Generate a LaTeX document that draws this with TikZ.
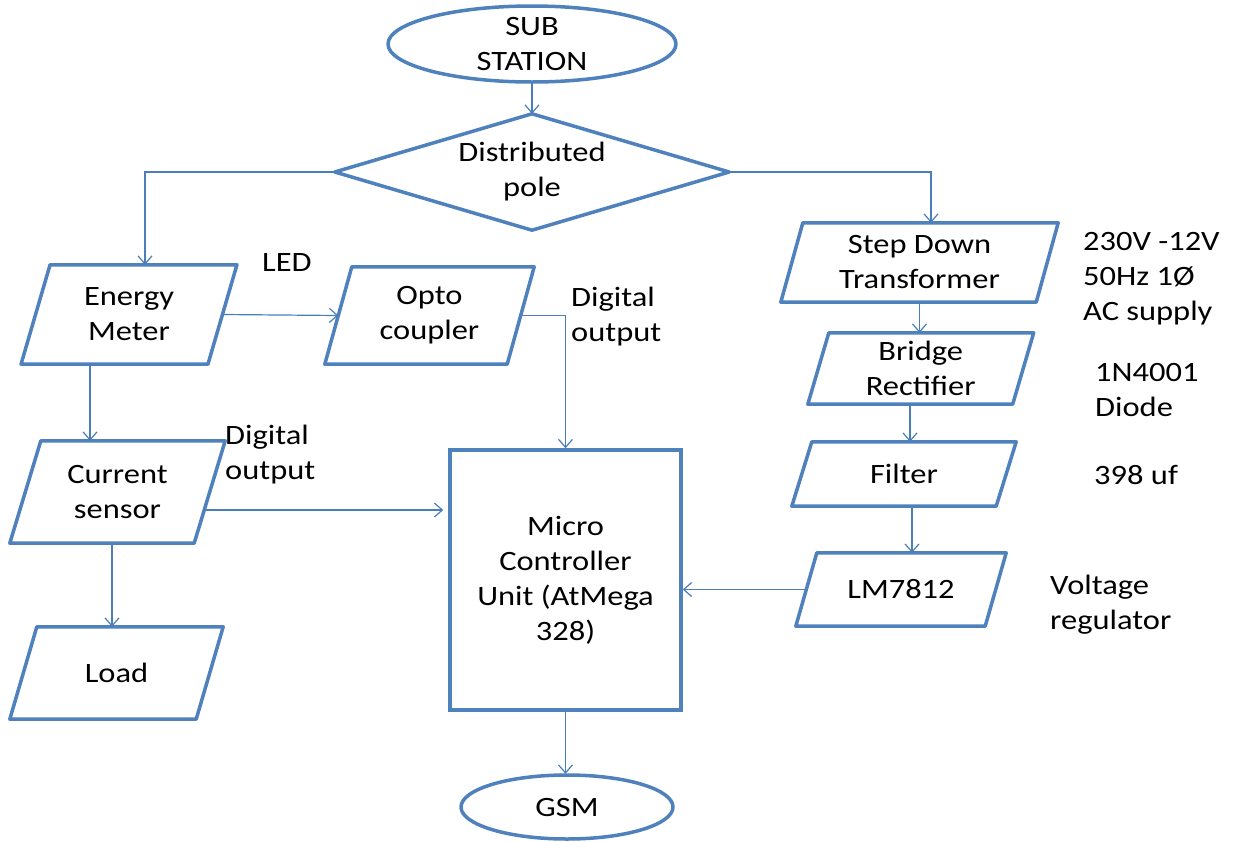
\documentclass[tikz,border=0pt]{standalone}
\usepackage{fontspec}
\setmainfont[FakeStretch=1.16]{Carlito}
\usetikzlibrary{arrows.meta}
\definecolor{boxblue}{HTML}{4F81BD}
\definecolor{lineblue}{HTML}{4A7EBB}
\begin{document}
\begin{tikzpicture}[x=1pt,y=-1pt,
  box/.style={draw=boxblue, line width=3.5pt, line join=round},
  holder/.style={inner sep=0pt, align=center, font=\fontsize{28}{35}\selectfont},
  lbl/.style={inner sep=0pt, align=left, anchor=west, font=\fontsize{28}{35}\selectfont},
  conn/.style={draw=lineblue, line width=1.2pt, -{Straight Barb[length=8pt,width=14pt]}}]
\useasboundingbox (0,0) rectangle (1234,841);
\fill[white] (0,0) rectangle (1234,841);
% nodes
\node[holder, minimum width=288pt, minimum height=76pt] (sub) at (532,44) {SUB\\STATION};
\node[holder, minimum width=394pt, minimum height=116pt] (dp) at (532,172) {Distributed\\pole};
\node[holder, minimum width=186.5pt, minimum height=99pt] (em) at (129,314.5) {Energy\\Meter};
\node[holder, minimum width=182pt, minimum height=97pt] (oc) at (429.5,315.5) {Opto\\coupler};
\node[holder, minimum width=184pt, minimum height=102pt] (cs) at (117.5,492) {Current\\sensor};
\node[holder, minimum width=186pt, minimum height=92pt] (ld) at (116.5,673) {Load};
\node[holder, minimum width=255pt, minimum height=79pt] (sd) at (919.5,262.5) {Step Down\\Transformer};
\node[holder, minimum width=204.5pt, minimum height=71pt] (br) at (920.75,368.5) {Bridge\\Rectifier};
\node[holder, minimum width=204pt, minimum height=64pt] (fi) at (904,474) {Filter};
\node[holder, minimum width=189pt, minimum height=73pt] (lm) at (901,589.5) {LM7812};
\node[holder, draw=boxblue, line width=3.5pt, minimum width=231pt, minimum height=260pt] (mcu) at (565.5,580) {Micro\\Controller\\Unit (AtMega\\328)};
\node[holder, minimum width=212pt, minimum height=66pt] (gsm) at (567,807) {GSM};
% shapes
\draw[box] (sub.center) ellipse [x radius=144pt, y radius=38pt];
\draw[box] (gsm.center) ellipse [x radius=106pt, y radius=32pt];
\draw[box] (dp.north) -- (dp.east) -- (dp.south) -- (dp.west) -- cycle;
\foreach \n/\s in {em/14.5, oc/13.5, cs/15.5, ld/13.5, sd/11, br/10.5, fi/10, lm/10.5}
  \draw[box] ([xshift=\s pt]\n.north west) -- ([xshift=\s pt]\n.north east) -- ([xshift=-\s pt]\n.south east) -- ([xshift=-\s pt]\n.south west) -- cycle;
% connectors
\draw[conn] (sub.south) -- (dp.north);
\draw[conn] (dp.west) -| ([xshift=16pt]em.north);
\draw[conn] (dp.east) -| ([xshift=11.5pt]sd.north);
\draw[conn] (em.east) -- (oc.west);
\draw[conn] (oc.east) -| (mcu.north);
\draw[conn] ([xshift=-39pt]em.south) -- ([xshift=-39pt]em.south |- cs.north);
\draw[conn] ([shift={(-5,18)}]cs.east) -- ([shift={(-5,18)}]cs.east -| mcu.west);
\draw[conn] ([xshift=-5.5pt]cs.south) -- ([xshift=-5.5pt]cs.south |- ld.north);
\draw[conn] (sd.south) -- (sd.south |- br.north);
\draw[conn] ([xshift=-10.75pt]br.south) -- ([xshift=-10.75pt]br.south |- fi.north);
\draw[conn] ([xshift=8pt]fi.south) -- ([xshift=8pt]fi.south |- lm.north);
\draw[conn] (lm.west) -- (lm.west -| mcu.east);
\draw[conn] (mcu.south) -- (mcu.south |- gsm.north);
% labels
\node[lbl] (led) at (262,263) {LED};
\node[lbl] (do1) at (571,317) {Digital\\output};
\node[lbl] (do2) at (225,455) {Digital\\output};
\node[lbl] (ac) at (1083,279) {230V -12V\\50Hz 1Ø\\AC supply};
\node[lbl] (dio) at (1095,390) {1N4001\\Diode};
\node[lbl] (uf) at (1094,475) {398 uf};
\node[lbl] (vr) at (1050,605) {Voltage\\regulator};
\end{tikzpicture}
\end{document}
